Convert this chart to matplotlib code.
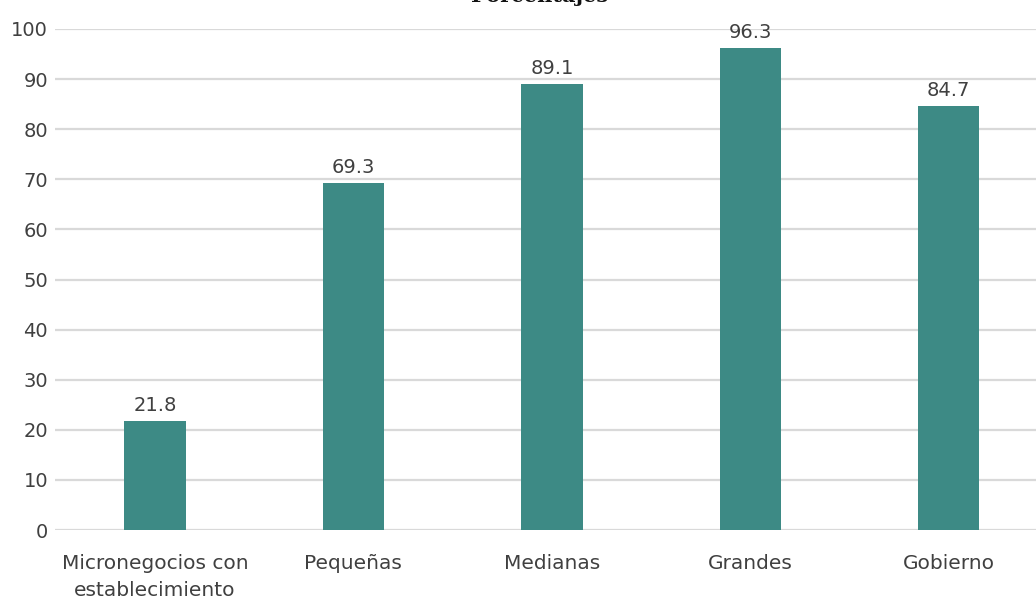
import matplotlib
matplotlib.use("Agg")
import matplotlib.pyplot as plt

categories = ["Micronegocios con\nestablecimiento", "Pequeñas", "Medianas", "Grandes", "Gobierno"]
values = [21.8, 69.3, 89.1, 96.3, 84.7]
yticks = [0, 10, 20, 30, 40, 50, 60, 70, 80, 90, 100]
title = "Porcentajes"

bar_color = "#3d8a85"
text_color = "#404040"
grid_color = "#d9d9d9"

fig = plt.figure(figsize=(10.36, 6.01), dpi=100)
W, H = 1036, 601
ax = fig.add_axes([55 / W, (H - 530) / H, (W - 55) / W, 501 / H])

x = list(range(len(categories)))
ax.bar(x, values, width=0.31, color=bar_color, zorder=3)
ax.set_xlim(-0.504, 4.44)
ax.set_ylim(0, 100)
ax.set_yticks(yticks)
ax.set_yticklabels([str(t) for t in yticks], fontsize=14, color=text_color, family="DejaVu Sans")
ax.set_xticks(x)
ax.set_xticklabels(categories, fontsize=14.5, color=text_color, family="DejaVu Sans", linespacing=1.55)
ax.tick_params(axis="x", length=0, pad=17)
ax.tick_params(axis="y", length=0, pad=5)
ax.grid(axis="y", color=grid_color, linewidth=1.6, zorder=0)
for s in ax.spines.values():
    s.set_visible(False)

for xi, v in zip(x, values):
    ax.annotate(f"{v:.1f}", (xi, v), xytext=(0, 4), textcoords="offset points",
                ha="center", va="bottom", fontsize=14, color=text_color,
                family="DejaVu Sans", annotation_clip=False)

fig.text(540 / W, 1 - 2 / H, title, ha="center", va="baseline", fontsize=15,
         fontweight="bold", family="DejaVu Serif", color="#111111")

fig.savefig("out.png", dpi=100)
